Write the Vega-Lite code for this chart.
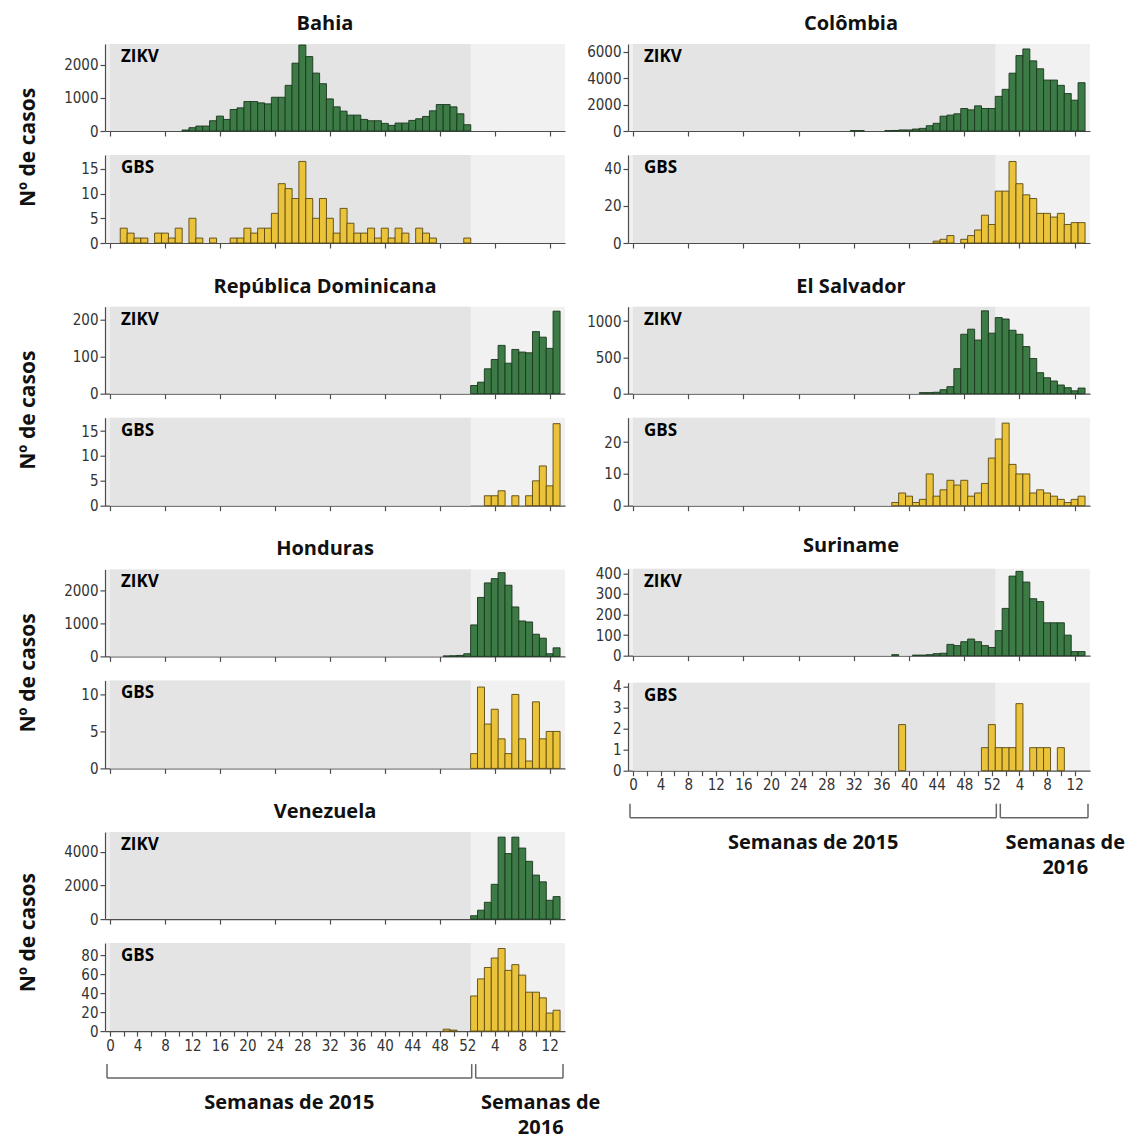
{
"$schema": "https://vega.github.io/schema/vega-lite/v6.json",
"padding": {"left": 18, "top": 14, "right": 0, "bottom": 0},
"background": "white",
"config": {
 "view": {"fill": "#f1f1f1", "stroke": null},
 "axis": {"zindex": 1, "labelFont": "Liberation Sans Narrow, DejaVu Sans Condensed, sans-serif", "labelFontSize": 15, "labelColor": "#333", "domainColor": "#4d4d4d", "tickColor": "#4d4d4d", "domainWidth": 1.2, "tickWidth": 1.2, "tickSize": 5, "grid": false, "labelPadding": 2, "title": null},
 "axisY": {"format": "d", "minExtent": 48, "maxExtent": 48, "labelOverlap": false},
 "axisX": {"labelFlush": false, "labelOverlap": false},
 "style": {"rotulo": {"font": "Open Sans", "fontSize": 17, "fontWeight": "bold", "fill": "#222", "align": "left", "baseline": "top", "dx": 11, "dy": 5}},
 "title": {"font": "Open Sans", "fontSize": 20, "fontWeight": "bold", "color": "#111"}
},
"datasets": {
 "bahia_zikv": [{"semana":11,"casos":30},{"semana":12,"casos":100},{"semana":13,"casos":150},{"semana":14,"casos":150},{"semana":15,"casos":310},{"semana":16,"casos":450},{"semana":17,"casos":350},{"semana":18,"casos":650},{"semana":19,"casos":700},{"semana":20,"casos":890},{"semana":21,"casos":890},{"semana":22,"casos":850},{"semana":23,"casos":820},{"semana":24,"casos":1020},{"semana":25,"casos":1020},{"semana":26,"casos":1380},{"semana":27,"casos":2050},{"semana":28,"casos":2600},{"semana":29,"casos":2250},{"semana":30,"casos":1750},{"semana":31,"casos":1430},{"semana":32,"casos":970},{"semana":33,"casos":730},{"semana":34,"casos":600},{"semana":35,"casos":480},{"semana":36,"casos":480},{"semana":37,"casos":350},{"semana":38,"casos":310},{"semana":39,"casos":310},{"semana":40,"casos":230},{"semana":41,"casos":170},{"semana":42,"casos":240},{"semana":43,"casos":240},{"semana":44,"casos":320},{"semana":45,"casos":370},{"semana":46,"casos":440},{"semana":47,"casos":610},{"semana":48,"casos":800},{"semana":49,"casos":800},{"semana":50,"casos":730},{"semana":51,"casos":520},{"semana":52,"casos":190}],
 "bahia_gbs": [{"semana":2,"casos":3},{"semana":3,"casos":2},{"semana":4,"casos":1},{"semana":5,"casos":1},{"semana":7,"casos":2},{"semana":8,"casos":2},{"semana":9,"casos":1},{"semana":10,"casos":3},{"semana":12,"casos":5},{"semana":13,"casos":1},{"semana":15,"casos":1},{"semana":18,"casos":1},{"semana":19,"casos":1},{"semana":20,"casos":3},{"semana":21,"casos":2},{"semana":22,"casos":3},{"semana":23,"casos":3},{"semana":24,"casos":6},{"semana":25,"casos":12},{"semana":26,"casos":11},{"semana":27,"casos":9},{"semana":28,"casos":16.5},{"semana":29,"casos":9},{"semana":30,"casos":5},{"semana":31,"casos":9},{"semana":32,"casos":5},{"semana":33,"casos":2},{"semana":34,"casos":7},{"semana":35,"casos":4},{"semana":36,"casos":2},{"semana":37,"casos":2},{"semana":38,"casos":3},{"semana":39,"casos":1},{"semana":40,"casos":3},{"semana":41,"casos":1},{"semana":42,"casos":3},{"semana":43,"casos":2},{"semana":45,"casos":3},{"semana":46,"casos":2},{"semana":47,"casos":1},{"semana":52,"casos":1}],
 "col_zikv": [{"semana":32,"casos":30},{"semana":33,"casos":30},{"semana":37,"casos":30},{"semana":38,"casos":40},{"semana":39,"casos":80},{"semana":40,"casos":80},{"semana":41,"casos":150},{"semana":42,"casos":200},{"semana":43,"casos":400},{"semana":44,"casos":580},{"semana":45,"casos":1120},{"semana":46,"casos":1200},{"semana":47,"casos":1300},{"semana":48,"casos":1700},{"semana":49,"casos":1600},{"semana":50,"casos":1900},{"semana":51,"casos":1700},{"semana":52,"casos":1700},{"semana":53,"casos":2620},{"semana":54,"casos":3150},{"semana":55,"casos":4370},{"semana":56,"casos":5700},{"semana":57,"casos":6200},{"semana":58,"casos":5300},{"semana":59,"casos":4700},{"semana":60,"casos":3850},{"semana":61,"casos":3850},{"semana":62,"casos":3450},{"semana":63,"casos":2830},{"semana":64,"casos":2330},{"semana":65,"casos":3650}],
 "col_gbs": [{"semana":44,"casos":1},{"semana":45,"casos":2},{"semana":46,"casos":4},{"semana":48,"casos":2},{"semana":49,"casos":4},{"semana":50,"casos":7},{"semana":51,"casos":15},{"semana":52,"casos":10},{"semana":53,"casos":28},{"semana":54,"casos":28},{"semana":55,"casos":44},{"semana":56,"casos":32},{"semana":57,"casos":26},{"semana":58,"casos":24},{"semana":59,"casos":16},{"semana":60,"casos":16},{"semana":61,"casos":14},{"semana":62,"casos":16},{"semana":63,"casos":10},{"semana":64,"casos":11},{"semana":65,"casos":11}],
 "rd_zikv": [{"semana":53,"casos":22},{"semana":54,"casos":31},{"semana":55,"casos":67},{"semana":56,"casos":92},{"semana":57,"casos":130},{"semana":58,"casos":82},{"semana":59,"casos":119},{"semana":60,"casos":112},{"semana":61,"casos":110},{"semana":62,"casos":167},{"semana":63,"casos":152},{"semana":64,"casos":122},{"semana":65,"casos":222}],
 "rd_gbs": [{"semana":55,"casos":2},{"semana":56,"casos":2},{"semana":57,"casos":3},{"semana":59,"casos":2},{"semana":61,"casos":2},{"semana":62,"casos":5},{"semana":63,"casos":8},{"semana":64,"casos":4},{"semana":65,"casos":16.5}],
 "es_zikv": [{"semana":42,"casos":15},{"semana":43,"casos":15},{"semana":44,"casos":20},{"semana":45,"casos":55},{"semana":46,"casos":97},{"semana":47,"casos":345},{"semana":48,"casos":820},{"semana":49,"casos":890},{"semana":50,"casos":740},{"semana":51,"casos":1143},{"semana":52,"casos":835},{"semana":53,"casos":1050},{"semana":54,"casos":1030},{"semana":55,"casos":875},{"semana":56,"casos":820},{"semana":57,"casos":650},{"semana":58,"casos":485},{"semana":59,"casos":290},{"semana":60,"casos":220},{"semana":61,"casos":175},{"semana":62,"casos":120},{"semana":63,"casos":83},{"semana":64,"casos":40},{"semana":65,"casos":78}],
 "es_gbs": [{"semana":38,"casos":1},{"semana":39,"casos":4},{"semana":40,"casos":3},{"semana":41,"casos":1},{"semana":42,"casos":2},{"semana":43,"casos":10},{"semana":44,"casos":3},{"semana":45,"casos":5},{"semana":46,"casos":8},{"semana":47,"casos":6.5},{"semana":48,"casos":8},{"semana":49,"casos":3},{"semana":50,"casos":4},{"semana":51,"casos":7},{"semana":52,"casos":15},{"semana":53,"casos":21},{"semana":54,"casos":26},{"semana":55,"casos":13},{"semana":56,"casos":10},{"semana":57,"casos":10},{"semana":58,"casos":4},{"semana":59,"casos":5},{"semana":60,"casos":4},{"semana":61,"casos":3},{"semana":62,"casos":2},{"semana":63,"casos":1},{"semana":64,"casos":2},{"semana":65,"casos":3}],
 "hon_zikv": [{"semana":49,"casos":15},{"semana":50,"casos":20},{"semana":51,"casos":30},{"semana":52,"casos":80},{"semana":53,"casos":955},{"semana":54,"casos":1790},{"semana":55,"casos":2230},{"semana":56,"casos":2360},{"semana":57,"casos":2540},{"semana":58,"casos":2160},{"semana":59,"casos":1500},{"semana":60,"casos":1075},{"semana":61,"casos":1045},{"semana":62,"casos":673},{"semana":63,"casos":553},{"semana":64,"casos":80},{"semana":65,"casos":260}],
 "hon_gbs": [{"semana":53,"casos":2},{"semana":54,"casos":11},{"semana":55,"casos":6},{"semana":56,"casos":8},{"semana":57,"casos":4},{"semana":58,"casos":2},{"semana":59,"casos":10},{"semana":60,"casos":4},{"semana":61,"casos":1},{"semana":62,"casos":9},{"semana":63,"casos":4},{"semana":64,"casos":5},{"semana":65,"casos":5}],
 "sur_zikv": [{"semana":38,"casos":5},{"semana":41,"casos":3},{"semana":42,"casos":3},{"semana":43,"casos":5},{"semana":44,"casos":10},{"semana":45,"casos":12},{"semana":46,"casos":55},{"semana":47,"casos":49},{"semana":48,"casos":68},{"semana":49,"casos":81},{"semana":50,"casos":68},{"semana":51,"casos":49},{"semana":52,"casos":40},{"semana":53,"casos":122},{"semana":54,"casos":230},{"semana":55,"casos":387},{"semana":56,"casos":410},{"semana":57,"casos":358},{"semana":58,"casos":277},{"semana":59,"casos":263},{"semana":60,"casos":160},{"semana":61,"casos":160},{"semana":62,"casos":160},{"semana":63,"casos":100},{"semana":64,"casos":20},{"semana":65,"casos":20}],
 "sur_gbs": [{"semana":39,"casos":2.2},{"semana":51,"casos":1.1},{"semana":52,"casos":2.2},{"semana":53,"casos":1.1},{"semana":54,"casos":1.1},{"semana":55,"casos":1.1},{"semana":56,"casos":3.2},{"semana":58,"casos":1.1},{"semana":59,"casos":1.1},{"semana":60,"casos":1.1},{"semana":62,"casos":1.1}],
 "ven_zikv": [{"semana":53,"casos":200},{"semana":54,"casos":530},{"semana":55,"casos":1000},{"semana":56,"casos":2070},{"semana":57,"casos":4880},{"semana":58,"casos":3900},{"semana":59,"casos":4880},{"semana":60,"casos":4230},{"semana":61,"casos":3440},{"semana":62,"casos":2620},{"semana":63,"casos":2220},{"semana":64,"casos":1120},{"semana":65,"casos":1340}],
 "ven_gbs": [{"semana":49,"casos":2},{"semana":50,"casos":1},{"semana":53,"casos":37},{"semana":54,"casos":55},{"semana":55,"casos":67},{"semana":56,"casos":77},{"semana":57,"casos":87},{"semana":58,"casos":64},{"semana":59,"casos":70},{"semana":60,"casos":59},{"semana":61,"casos":41},{"semana":62,"casos":41},{"semana":63,"casos":35},{"semana":64,"casos":19},{"semana":65,"casos":22}],
 "chaves": [{"periodo":"Semanas de 2015","semana":0,"extremo":"inicio"},{"periodo":"Semanas de 2015","semana":52.5,"extremo":"fim"},{"periodo":"Semanas de\n2016","semana":52.5,"extremo":"inicio"},{"periodo":"Semanas de\n2016","semana":65.5,"extremo":"fim"}]
},
"spacing": -21,
"hconcat": [
 {"spacing": 25.7, "vconcat": [
  {"title": {"text": "Nº de casos", "orient": "left", "anchor": "middle", "fontSize": 21, "offset": 18, "dx": -15}, "spacing": 16, "vconcat": [
   {"width": 460, "height": 87, "title": {"text": "Bahia", "frame": "group", "dx": -10, "offset": 10}, "resolve": {"scale": {"y": "independent"}, "axis": {"y": "independent"}}, "layer": [
    {"data": {"values": [{}]}, "mark": {"type": "rect", "fill": "#e4e4e4"}, "encoding": {"x": {"datum": 0, "type": "quantitative"}, "x2": {"datum": 52.5}}},
    {"data": {"name": "bahia_zikv"}, "mark": {"type": "bar", "width": 7, "fill": "#3c7b46", "stroke": "#1a361d", "strokeWidth": 0.9}, "encoding": {"x": {"field": "semana", "type": "quantitative", "scale": {"domain": [0, 65.5], "nice": false}, "axis": {"values": [0,2,4,6,8,10,12,14,16,18,20,22,24,26,28,30,32,34,36,38,40,42,44,46,48,50,52,54,56,58,60,62,64], "labels": false}}, "y": {"field": "casos", "type": "quantitative", "scale": {"domain": [0, 2630], "nice": false}, "axis": {"values": [0, 1000, 2000], "labelOverlap": false}}}},
    {"data": {"values": [{}]}, "mark": {"type": "text", "text": "ZIKV", "style": "rotulo"}, "encoding": {"x": {"datum": 0, "type": "quantitative"}, "y": {"datum": 1, "type": "quantitative", "scale": {"domain": [0, 1]}, "axis": null}}}
   ]},
   {"width": 460, "height": 88, "resolve": {"scale": {"y": "independent"}, "axis": {"y": "independent"}}, "layer": [
    {"data": {"values": [{}]}, "mark": {"type": "rect", "fill": "#e4e4e4"}, "encoding": {"x": {"datum": 0, "type": "quantitative"}, "x2": {"datum": 52.5}}},
    {"data": {"name": "bahia_gbs"}, "mark": {"type": "bar", "width": 7, "fill": "#eac33a", "stroke": "#5a4811", "strokeWidth": 0.9}, "encoding": {"x": {"field": "semana", "type": "quantitative", "scale": {"domain": [0, 65.5], "nice": false}, "axis": {"values": [0,2,4,6,8,10,12,14,16,18,20,22,24,26,28,30,32,34,36,38,40,42,44,46,48,50,52,54,56,58,60,62,64], "labels": false}}, "y": {"field": "casos", "type": "quantitative", "scale": {"domain": [0, 17.8], "nice": false}, "axis": {"values": [0, 5, 10, 15], "labelOverlap": false}}}},
    {"data": {"values": [{}]}, "mark": {"type": "text", "text": "GBS", "style": "rotulo"}, "encoding": {"x": {"datum": 0, "type": "quantitative"}, "y": {"datum": 1, "type": "quantitative", "scale": {"domain": [0, 1]}, "axis": null}}}
   ]}
  ]},
  {"title": {"text": "Nº de casos", "orient": "left", "anchor": "middle", "fontSize": 21, "offset": 18, "dx": -15}, "spacing": 16, "vconcat": [
   {"width": 460, "height": 87, "title": {"text": "República Dominicana", "frame": "group", "dx": -10, "offset": 10}, "resolve": {"scale": {"y": "independent"}, "axis": {"y": "independent"}}, "layer": [
    {"data": {"values": [{}]}, "mark": {"type": "rect", "fill": "#e4e4e4"}, "encoding": {"x": {"datum": 0, "type": "quantitative"}, "x2": {"datum": 52.5}}},
    {"data": {"name": "rd_zikv"}, "mark": {"type": "bar", "width": 7, "fill": "#3c7b46", "stroke": "#1a361d", "strokeWidth": 0.9}, "encoding": {"x": {"field": "semana", "type": "quantitative", "scale": {"domain": [0, 65.5], "nice": false}, "axis": {"values": [0,2,4,6,8,10,12,14,16,18,20,22,24,26,28,30,32,34,36,38,40,42,44,46,48,50,52,54,56,58,60,62,64], "labels": false}}, "y": {"field": "casos", "type": "quantitative", "scale": {"domain": [0, 234], "nice": false}, "axis": {"values": [0, 100, 200], "labelOverlap": false}}}},
    {"data": {"values": [{}]}, "mark": {"type": "text", "text": "ZIKV", "style": "rotulo"}, "encoding": {"x": {"datum": 0, "type": "quantitative"}, "y": {"datum": 1, "type": "quantitative", "scale": {"domain": [0, 1]}, "axis": null}}}
   ]},
   {"width": 460, "height": 88, "resolve": {"scale": {"y": "independent"}, "axis": {"y": "independent"}}, "layer": [
    {"data": {"values": [{}]}, "mark": {"type": "rect", "fill": "#e4e4e4"}, "encoding": {"x": {"datum": 0, "type": "quantitative"}, "x2": {"datum": 52.5}}},
    {"data": {"name": "rd_gbs"}, "mark": {"type": "bar", "width": 7, "fill": "#eac33a", "stroke": "#5a4811", "strokeWidth": 0.9}, "encoding": {"x": {"field": "semana", "type": "quantitative", "scale": {"domain": [0, 65.5], "nice": false}, "axis": {"values": [0,2,4,6,8,10,12,14,16,18,20,22,24,26,28,30,32,34,36,38,40,42,44,46,48,50,52,54,56,58,60,62,64], "labels": false}}, "y": {"field": "casos", "type": "quantitative", "scale": {"domain": [0, 17.7], "nice": false}, "axis": {"values": [0, 5, 10, 15], "labelOverlap": false}}}},
    {"data": {"values": [{}]}, "mark": {"type": "text", "text": "GBS", "style": "rotulo"}, "encoding": {"x": {"datum": 0, "type": "quantitative"}, "y": {"datum": 1, "type": "quantitative", "scale": {"domain": [0, 1]}, "axis": null}}}
   ]}
  ]},
  {"title": {"text": "Nº de casos", "orient": "left", "anchor": "middle", "fontSize": 21, "offset": 18, "dx": -15}, "spacing": 16, "vconcat": [
   {"width": 460, "height": 87, "title": {"text": "Honduras", "frame": "group", "dx": -10, "offset": 10}, "resolve": {"scale": {"y": "independent"}, "axis": {"y": "independent"}}, "layer": [
    {"data": {"values": [{}]}, "mark": {"type": "rect", "fill": "#e4e4e4"}, "encoding": {"x": {"datum": 0, "type": "quantitative"}, "x2": {"datum": 52.5}}},
    {"data": {"name": "hon_zikv"}, "mark": {"type": "bar", "width": 7, "fill": "#3c7b46", "stroke": "#1a361d", "strokeWidth": 0.9}, "encoding": {"x": {"field": "semana", "type": "quantitative", "scale": {"domain": [0, 65.5], "nice": false}, "axis": {"values": [0,2,4,6,8,10,12,14,16,18,20,22,24,26,28,30,32,34,36,38,40,42,44,46,48,50,52,54,56,58,60,62,64], "labels": false}}, "y": {"field": "casos", "type": "quantitative", "scale": {"domain": [0, 2640], "nice": false}, "axis": {"values": [0, 1000, 2000], "labelOverlap": false}}}},
    {"data": {"values": [{}]}, "mark": {"type": "text", "text": "ZIKV", "style": "rotulo"}, "encoding": {"x": {"datum": 0, "type": "quantitative"}, "y": {"datum": 1, "type": "quantitative", "scale": {"domain": [0, 1]}, "axis": null}}}
   ]},
   {"width": 460, "height": 88, "resolve": {"scale": {"y": "independent"}, "axis": {"y": "independent"}}, "layer": [
    {"data": {"values": [{}]}, "mark": {"type": "rect", "fill": "#e4e4e4"}, "encoding": {"x": {"datum": 0, "type": "quantitative"}, "x2": {"datum": 52.5}}},
    {"data": {"name": "hon_gbs"}, "mark": {"type": "bar", "width": 7, "fill": "#eac33a", "stroke": "#5a4811", "strokeWidth": 0.9}, "encoding": {"x": {"field": "semana", "type": "quantitative", "scale": {"domain": [0, 65.5], "nice": false}, "axis": {"values": [0,2,4,6,8,10,12,14,16,18,20,22,24,26,28,30,32,34,36,38,40,42,44,46,48,50,52,54,56,58,60,62,64], "labels": false}}, "y": {"field": "casos", "type": "quantitative", "scale": {"domain": [0, 11.9], "nice": false}, "axis": {"values": [0, 5, 10], "labelOverlap": false}}}},
    {"data": {"values": [{}]}, "mark": {"type": "text", "text": "GBS", "style": "rotulo"}, "encoding": {"x": {"datum": 0, "type": "quantitative"}, "y": {"datum": 1, "type": "quantitative", "scale": {"domain": [0, 1]}, "axis": null}}}
   ]}
  ]},
  {"spacing": 10, "vconcat": [
   {"title": {"text": "Nº de casos", "orient": "left", "anchor": "middle", "fontSize": 21, "offset": 18, "dx": -5}, "spacing": 16, "vconcat": [
    {"width": 460, "height": 87, "title": {"text": "Venezuela", "frame": "group", "dx": -10, "offset": 10}, "resolve": {"scale": {"y": "independent"}, "axis": {"y": "independent"}}, "layer": [
     {"data": {"values": [{}]}, "mark": {"type": "rect", "fill": "#e4e4e4"}, "encoding": {"x": {"datum": 0, "type": "quantitative"}, "x2": {"datum": 52.5}}},
     {"data": {"name": "ven_zikv"}, "mark": {"type": "bar", "width": 7, "fill": "#3c7b46", "stroke": "#1a361d", "strokeWidth": 0.9}, "encoding": {"x": {"field": "semana", "type": "quantitative", "scale": {"domain": [0, 65.5], "nice": false}, "axis": {"values": [0,2,4,6,8,10,12,14,16,18,20,22,24,26,28,30,32,34,36,38,40,42,44,46,48,50,52,54,56,58,60,62,64], "labels": false}}, "y": {"field": "casos", "type": "quantitative", "scale": {"domain": [0, 5180], "nice": false}, "axis": {"values": [0, 2000, 4000], "labelOverlap": false}}}},
     {"data": {"values": [{}]}, "mark": {"type": "text", "text": "ZIKV", "style": "rotulo"}, "encoding": {"x": {"datum": 0, "type": "quantitative"}, "y": {"datum": 1, "type": "quantitative", "scale": {"domain": [0, 1]}, "axis": null}}}
    ]},
    {"width": 460, "height": 88, "resolve": {"scale": {"y": "independent"}, "axis": {"x": "independent", "y": "independent"}}, "layer": [
     {"data": {"values": [{}]}, "mark": {"type": "rect", "fill": "#e4e4e4"}, "encoding": {"x": {"datum": 0, "type": "quantitative", "axis": {"orient": "bottom", "values": [2,6,10,14,18,22,26,30,34,38,42,46,50,54,58,62], "labels": false, "domain": false}}, "x2": {"datum": 52.5}}},
     {"data": {"name": "ven_gbs"}, "mark": {"type": "bar", "width": 7, "fill": "#eac33a", "stroke": "#5a4811", "strokeWidth": 0.9}, "encoding": {"x": {"field": "semana", "type": "quantitative", "scale": {"domain": [0, 65.5], "nice": false}, "axis": {"orient": "bottom", "values": [0,4,8,12,16,20,24,28,32,36,40,44,48,52,56,60,64], "labelOverlap": false, "labelExpr": "datum.value > 52 ? datum.value - 52 : datum.value"}}, "y": {"field": "casos", "type": "quantitative", "scale": {"domain": [0, 92.7], "nice": false}, "axis": {"values": [0, 20, 40, 60, 80], "labelOverlap": false}}}},
     {"data": {"values": [{}]}, "mark": {"type": "text", "text": "GBS", "style": "rotulo"}, "encoding": {"x": {"datum": 0, "type": "quantitative", "axis": null}, "y": {"datum": 1, "type": "quantitative", "scale": {"domain": [0, 1]}, "axis": null}}}
    ]}
   ]},
   {"width": 460, "height": 62, "view": {"fill": null, "stroke": null}, "data": {"name": "chaves"}, "layer": [
    {"mark": {"type": "rule", "color": "#666", "strokeWidth": 1.5, "xOffset": 2, "x2Offset": -2}, "encoding": {"x": {"aggregate": "min", "field": "semana", "type": "quantitative", "scale": {"domain": [0, 65.5], "nice": false}, "axis": null}, "x2": {"aggregate": "max", "field": "semana"}, "y": {"datum": 0.774, "type": "quantitative", "scale": {"domain": [0, 1], "nice": false}, "axis": null}, "detail": {"field": "periodo", "type": "nominal"}}},
    {"transform": [{"filter": "datum.extremo == 'inicio'"}], "mark": {"type": "rule", "color": "#666", "strokeWidth": 1.5, "xOffset": 2}, "encoding": {"x": {"field": "semana", "type": "quantitative"}, "y": {"datum": 0.774, "type": "quantitative"}, "y2": {"datum": 1}}},
    {"transform": [{"filter": "datum.extremo == 'fim'"}], "mark": {"type": "rule", "color": "#666", "strokeWidth": 1.5, "xOffset": -2}, "encoding": {"x": {"field": "semana", "type": "quantitative"}, "y": {"datum": 0.774, "type": "quantitative"}, "y2": {"datum": 1}}},
    {"transform": [{"filter": "datum.periodo == 'Semanas de 2015'"}], "mark": {"type": "text", "font": "Open Sans", "fontSize": 20, "fontWeight": "bold", "color": "#111", "align": "center", "baseline": "top"}, "encoding": {"x": {"aggregate": "mean", "field": "semana", "type": "quantitative"}, "y": {"datum": 0.53, "type": "quantitative"}, "text": {"field": "periodo", "type": "nominal"}}},
    {"transform": [{"filter": "datum.periodo != 'Semanas de 2015'"}], "mark": {"type": "text", "font": "Open Sans", "fontSize": 20, "fontWeight": "bold", "color": "#111", "align": "center", "baseline": "top", "lineBreak": "\n", "lineHeight": 25, "dx": 67}, "encoding": {"x": {"aggregate": "min", "field": "semana", "type": "quantitative"}, "y": {"datum": 0.53, "type": "quantitative"}, "text": {"field": "periodo", "type": "nominal"}}}
   ]}
  ]}
 ]},
 {"spacing": 25.7, "vconcat": [
  {"spacing": 16, "vconcat": [
   {"width": 462, "height": 87, "title": {"text": "Colômbia", "frame": "group", "dx": -8, "offset": 10}, "resolve": {"scale": {"y": "independent"}, "axis": {"y": "independent"}}, "layer": [
    {"data": {"values": [{}]}, "mark": {"type": "rect", "fill": "#e4e4e4"}, "encoding": {"x": {"datum": 0, "type": "quantitative"}, "x2": {"datum": 52.5}}},
    {"data": {"name": "col_zikv"}, "mark": {"type": "bar", "width": 7, "fill": "#3c7b46", "stroke": "#1a361d", "strokeWidth": 0.9}, "encoding": {"x": {"field": "semana", "type": "quantitative", "scale": {"domain": [0, 65.5], "nice": false}, "axis": {"values": [0,2,4,6,8,10,12,14,16,18,20,22,24,26,28,30,32,34,36,38,40,42,44,46,48,50,52,54,56,58,60,62,64], "labels": false}}, "y": {"field": "casos", "type": "quantitative", "scale": {"domain": [0, 6575], "nice": false}, "axis": {"values": [0, 2000, 4000, 6000], "labelOverlap": false}}}},
    {"data": {"values": [{}]}, "mark": {"type": "text", "text": "ZIKV", "style": "rotulo"}, "encoding": {"x": {"datum": 0, "type": "quantitative"}, "y": {"datum": 1, "type": "quantitative", "scale": {"domain": [0, 1]}, "axis": null}}}
   ]},
   {"width": 462, "height": 88, "resolve": {"scale": {"y": "independent"}, "axis": {"y": "independent"}}, "layer": [
    {"data": {"values": [{}]}, "mark": {"type": "rect", "fill": "#e4e4e4"}, "encoding": {"x": {"datum": 0, "type": "quantitative"}, "x2": {"datum": 52.5}}},
    {"data": {"name": "col_gbs"}, "mark": {"type": "bar", "width": 7, "fill": "#eac33a", "stroke": "#5a4811", "strokeWidth": 0.9}, "encoding": {"x": {"field": "semana", "type": "quantitative", "scale": {"domain": [0, 65.5], "nice": false}, "axis": {"values": [0,2,4,6,8,10,12,14,16,18,20,22,24,26,28,30,32,34,36,38,40,42,44,46,48,50,52,54,56,58,60,62,64], "labels": false}}, "y": {"field": "casos", "type": "quantitative", "scale": {"domain": [0, 47.5], "nice": false}, "axis": {"values": [0, 20, 40], "labelOverlap": false}}}},
    {"data": {"values": [{}]}, "mark": {"type": "text", "text": "GBS", "style": "rotulo"}, "encoding": {"x": {"datum": 0, "type": "quantitative"}, "y": {"datum": 1, "type": "quantitative", "scale": {"domain": [0, 1]}, "axis": null}}}
   ]}
  ]},
  {"spacing": 22, "vconcat": [
   {"spacing": 16, "vconcat": [
    {"width": 462, "height": 87, "title": {"text": "El Salvador", "frame": "group", "dx": -8, "offset": 10}, "resolve": {"scale": {"y": "independent"}, "axis": {"y": "independent"}}, "layer": [
     {"data": {"values": [{}]}, "mark": {"type": "rect", "fill": "#e4e4e4"}, "encoding": {"x": {"datum": 0, "type": "quantitative"}, "x2": {"datum": 52.5}}},
     {"data": {"name": "es_zikv"}, "mark": {"type": "bar", "width": 7, "fill": "#3c7b46", "stroke": "#1a361d", "strokeWidth": 0.9}, "encoding": {"x": {"field": "semana", "type": "quantitative", "scale": {"domain": [0, 65.5], "nice": false}, "axis": {"values": [0,2,4,6,8,10,12,14,16,18,20,22,24,26,28,30,32,34,36,38,40,42,44,46,48,50,52,54,56,58,60,62,64], "labels": false}}, "y": {"field": "casos", "type": "quantitative", "scale": {"domain": [0, 1200], "nice": false}, "axis": {"values": [0, 500, 1000], "labelOverlap": false}}}},
     {"data": {"values": [{}]}, "mark": {"type": "text", "text": "ZIKV", "style": "rotulo"}, "encoding": {"x": {"datum": 0, "type": "quantitative"}, "y": {"datum": 1, "type": "quantitative", "scale": {"domain": [0, 1]}, "axis": null}}}
    ]},
    {"width": 462, "height": 88, "resolve": {"scale": {"y": "independent"}, "axis": {"y": "independent"}}, "layer": [
     {"data": {"values": [{}]}, "mark": {"type": "rect", "fill": "#e4e4e4"}, "encoding": {"x": {"datum": 0, "type": "quantitative"}, "x2": {"datum": 52.5}}},
     {"data": {"name": "es_gbs"}, "mark": {"type": "bar", "width": 7, "fill": "#eac33a", "stroke": "#5a4811", "strokeWidth": 0.9}, "encoding": {"x": {"field": "semana", "type": "quantitative", "scale": {"domain": [0, 65.5], "nice": false}, "axis": {"values": [0,2,4,6,8,10,12,14,16,18,20,22,24,26,28,30,32,34,36,38,40,42,44,46,48,50,52,54,56,58,60,62,64], "labels": false}}, "y": {"field": "casos", "type": "quantitative", "scale": {"domain": [0, 27.7], "nice": false}, "axis": {"values": [0, 10, 20], "labelOverlap": false}}}},
     {"data": {"values": [{}]}, "mark": {"type": "text", "text": "GBS", "style": "rotulo"}, "encoding": {"x": {"datum": 0, "type": "quantitative"}, "y": {"datum": 1, "type": "quantitative", "scale": {"domain": [0, 1]}, "axis": null}}}
    ]}
   ]},
   {"spacing": 10, "vconcat": [
    {"spacing": 16, "vconcat": [
     {"width": 462, "height": 87, "title": {"text": "Suriname", "frame": "group", "dx": -8, "offset": 10}, "resolve": {"scale": {"y": "independent"}, "axis": {"y": "independent"}}, "layer": [
      {"data": {"values": [{}]}, "mark": {"type": "rect", "fill": "#e4e4e4"}, "encoding": {"x": {"datum": 0, "type": "quantitative"}, "x2": {"datum": 52.5}}},
      {"data": {"name": "sur_zikv"}, "mark": {"type": "bar", "width": 7, "fill": "#3c7b46", "stroke": "#1a361d", "strokeWidth": 0.9}, "encoding": {"x": {"field": "semana", "type": "quantitative", "scale": {"domain": [0, 65.5], "nice": false}, "axis": {"values": [0,2,4,6,8,10,12,14,16,18,20,22,24,26,28,30,32,34,36,38,40,42,44,46,48,50,52,54,56,58,60,62,64], "labels": false}}, "y": {"field": "casos", "type": "quantitative", "scale": {"domain": [0, 423], "nice": false}, "axis": {"values": [0, 100, 200, 300, 400], "labelOverlap": false}}}},
      {"data": {"values": [{}]}, "mark": {"type": "text", "text": "ZIKV", "style": "rotulo"}, "encoding": {"x": {"datum": 0, "type": "quantitative"}, "y": {"datum": 1, "type": "quantitative", "scale": {"domain": [0, 1]}, "axis": null}}}
     ]},
     {"width": 462, "height": 88, "resolve": {"scale": {"y": "independent"}, "axis": {"x": "independent", "y": "independent"}}, "layer": [
      {"data": {"values": [{}]}, "mark": {"type": "rect", "fill": "#e4e4e4"}, "encoding": {"x": {"datum": 0, "type": "quantitative", "axis": {"orient": "bottom", "values": [2,6,10,14,18,22,26,30,34,38,42,46,50,54,58,62], "labels": false, "domain": false}}, "x2": {"datum": 52.5}}},
      {"data": {"name": "sur_gbs"}, "mark": {"type": "bar", "width": 7, "fill": "#eac33a", "stroke": "#5a4811", "strokeWidth": 0.9}, "encoding": {"x": {"field": "semana", "type": "quantitative", "scale": {"domain": [0, 65.5], "nice": false}, "axis": {"orient": "bottom", "values": [0,4,8,12,16,20,24,28,32,36,40,44,48,52,56,60,64], "labelOverlap": false, "labelExpr": "datum.value > 52 ? datum.value - 52 : datum.value"}}, "y": {"field": "casos", "type": "quantitative", "scale": {"domain": [0, 4.2], "nice": false}, "axis": {"values": [0, 1, 2, 3, 4], "labelOverlap": false}}}},
      {"data": {"values": [{}]}, "mark": {"type": "text", "text": "GBS", "style": "rotulo"}, "encoding": {"x": {"datum": 0, "type": "quantitative", "axis": null}, "y": {"datum": 1, "type": "quantitative", "scale": {"domain": [0, 1]}, "axis": null}}}
     ]}
    ]},
    {"width": 462, "height": 62, "view": {"fill": null, "stroke": null}, "data": {"name": "chaves"}, "layer": [
     {"mark": {"type": "rule", "color": "#666", "strokeWidth": 1.5, "xOffset": 2, "x2Offset": -2}, "encoding": {"x": {"aggregate": "min", "field": "semana", "type": "quantitative", "scale": {"domain": [0, 65.5], "nice": false}, "axis": null}, "x2": {"aggregate": "max", "field": "semana"}, "y": {"datum": 0.774, "type": "quantitative", "scale": {"domain": [0, 1], "nice": false}, "axis": null}, "detail": {"field": "periodo", "type": "nominal"}}},
     {"transform": [{"filter": "datum.extremo == 'inicio'"}], "mark": {"type": "rule", "color": "#666", "strokeWidth": 1.5, "xOffset": 2}, "encoding": {"x": {"field": "semana", "type": "quantitative"}, "y": {"datum": 0.774, "type": "quantitative"}, "y2": {"datum": 1}}},
     {"transform": [{"filter": "datum.extremo == 'fim'"}], "mark": {"type": "rule", "color": "#666", "strokeWidth": 1.5, "xOffset": -2}, "encoding": {"x": {"field": "semana", "type": "quantitative"}, "y": {"datum": 0.774, "type": "quantitative"}, "y2": {"datum": 1}}},
     {"transform": [{"filter": "datum.periodo == 'Semanas de 2015'"}], "mark": {"type": "text", "font": "Open Sans", "fontSize": 20, "fontWeight": "bold", "color": "#111", "align": "center", "baseline": "top"}, "encoding": {"x": {"aggregate": "mean", "field": "semana", "type": "quantitative"}, "y": {"datum": 0.53, "type": "quantitative"}, "text": {"field": "periodo", "type": "nominal"}}},
     {"transform": [{"filter": "datum.periodo != 'Semanas de 2015'"}], "mark": {"type": "text", "font": "Open Sans", "fontSize": 20, "fontWeight": "bold", "color": "#111", "align": "center", "baseline": "top", "lineBreak": "\n", "lineHeight": 25, "dx": 67}, "encoding": {"x": {"aggregate": "min", "field": "semana", "type": "quantitative"}, "y": {"datum": 0.53, "type": "quantitative"}, "text": {"field": "periodo", "type": "nominal"}}}
    ]}
   ]}
  ]}
 ]}
]
}
